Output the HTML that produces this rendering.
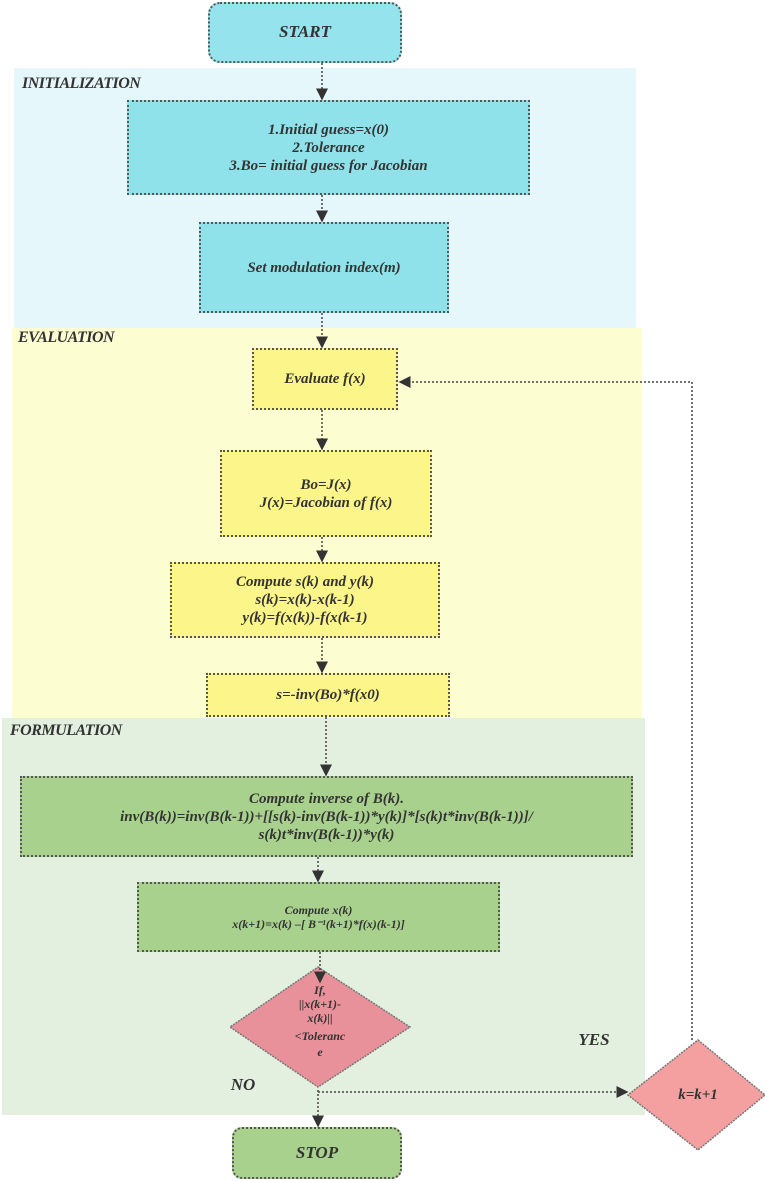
<!DOCTYPE html>
<html><head><meta charset="utf-8"><style>
body{margin:0;width:765px;height:1181px;position:relative;background:#fff;overflow:hidden;font-family:"Liberation Serif",serif;font-style:italic;font-weight:bold;color:#333}
.r{position:absolute}
.b{position:absolute;box-sizing:border-box;border:2px dotted #555;display:flex;align-items:center;justify-content:center;text-align:center;line-height:1.2}
.lbl{position:absolute;font-size:16px;color:#333;letter-spacing:-0.5px}
svg{position:absolute;left:0;top:0}
</style></head><body>
<div class="r" style="left:14px;top:68px;width:622px;height:260px;background:#e6f7fb"></div>
<div class="r" style="left:12px;top:328px;width:630px;height:390px;background:#fdfdd2"></div>
<div class="r" style="left:2px;top:718px;width:643px;height:397px;background:#e3f0df"></div>
<div class="lbl" style="left:22px;top:75px">INITIALIZATION</div>
<div class="lbl" style="left:18px;top:329px">EVALUATION</div>
<div class="lbl" style="left:10px;top:722px">FORMULATION</div>

<div class="b" style="left:208px;top:2px;width:194px;height:61px;border-radius:12px;background:#95e3ec;font-size:17px">START</div>
<div class="b" style="left:127px;top:100px;width:403px;height:95px;background:#90e2ea;font-size:15px">1.Initial guess=x(0)<br>2.Tolerance<br>3.Bo= initial guess for Jacobian</div>
<div class="b" style="left:199px;top:222px;width:250px;height:91px;background:#90e2ea;font-size:15px">Set modulation index(m)</div>
<div class="b" style="left:252px;top:348px;width:146px;height:62px;background:#fbf58a;font-size:15px">Evaluate f(x)</div>
<div class="b" style="left:220px;top:450px;width:212px;height:87px;background:#fbf58a;font-size:15px">Bo=J(x)<br>J(x)=Jacobian of f(x)</div>
<div class="b" style="left:170px;top:562px;width:270px;height:76px;background:#fbf58a;font-size:15px">Compute s(k) and y(k)<br>s(k)=x(k)-x(k-1)<br>y(k)=f(x(k))-f(x(k-1)</div>
<div class="b" style="left:206px;top:673px;width:244px;height:44px;background:#fbf58a;font-size:15px">s=-inv(Bo)*f(x0)</div>
<div class="b" style="left:20px;top:776px;width:613px;height:81px;background:#a9d18e;font-size:15px">Compute inverse of B(k).<br>inv(B(k))=inv(B(k-1))+[[s(k)-inv(B(k-1))*y(k)]*[s(k)t*inv(B(k-1))]/<br>s(k)t*inv(B(k-1))*y(k)</div>
<div class="b" style="left:137px;top:882px;width:363px;height:70px;background:#a9d18e;font-size:12px">Compute x(k)<br>x(k+1)=x(k) –[ B⁻¹(k+1)*f(x)(k-1)]</div>
<div class="b" style="left:232px;top:1127px;width:170px;height:52px;border-radius:10px;background:#a9d18e;font-size:17px">STOP</div>

<svg width="765" height="1181" viewBox="0 0 765 1181">
<defs><marker id="a" markerWidth="8" markerHeight="8" refX="7" refY="4" orient="auto"><path d="M0,0L8,4L0,8z" fill="#333"/></marker></defs>
<polygon points="318,967 410,1027 318,1087 230,1027" fill="#e9919b" stroke="#777" stroke-dasharray="2,1" stroke-width="1.5"/>
<polygon points="698,1040 765,1095 698,1150 628,1095" fill="#f5a0a0" stroke="#777" stroke-dasharray="2,1" stroke-width="1.5"/>
<g stroke="#444" stroke-width="1.5" stroke-dasharray="2,2" fill="none" marker-end="url(#a)">
<line x1="322" y1="63" x2="322" y2="99"/>
<line x1="322" y1="195" x2="322" y2="221"/>
<line x1="322" y1="313" x2="322" y2="347"/>
<line x1="322" y1="410" x2="322" y2="449"/>
<line x1="322" y1="537" x2="322" y2="561"/>
<line x1="322" y1="638" x2="322" y2="672"/>
<line x1="326" y1="717" x2="326" y2="775"/>
<line x1="318" y1="857" x2="318" y2="881"/>
<line x1="320" y1="952" x2="320" y2="982"/>
<line x1="318" y1="1090" x2="318" y2="1126"/>
<line x1="318" y1="1092" x2="627" y2="1092"/>
<polyline points="692,1040 692,382 400,382"/>
</g>
<g font-family="Liberation Serif" font-style="italic" font-weight="bold" fill="#333" text-anchor="middle">
<text x="320" y="994" font-size="12">If,</text>
<text x="320" y="1008" font-size="12">||x(k+1)-</text>
<text x="320" y="1022" font-size="12">x(k)||</text>
<text x="320" y="1040" font-size="12">&lt;Toleranc</text>
<text x="320" y="1056" font-size="12">e</text>
<text x="698" y="1099" font-size="15">k=k+1</text>
<text x="594" y="1045" font-size="17">YES</text>
<text x="243" y="1090" font-size="17">NO</text>
</g>
</svg>
</body></html>
